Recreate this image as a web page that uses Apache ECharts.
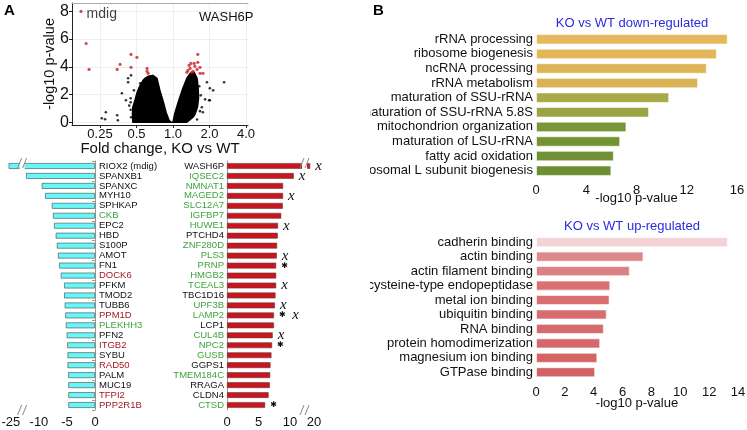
<!DOCTYPE html>
<html>
<head>
<meta charset="utf-8">
<script src="https://cdn.jsdelivr.net/npm/echarts@6/dist/echarts.min.js"></script>
<style>
body { margin: 0; background: #fff; }
#wrap { position: relative; width: 747px; height: 430px; overflow: hidden; }
.panel { position: absolute; }
</style>
</head>
<body>
<div id="wrap">
    <div id="volcano" class="panel" style="left:0;top:0;width:262px;height:156px"></div>
    <div id="genes" class="panel" style="left:0;top:150px;width:370px;height:280px"></div>
    <div id="goTerms" class="panel" style="left:370px;top:0;width:377px;height:430px"></div>
</div>
<script>
const font = 'Liberation Sans'

// ---- volcano: [log2 fold change, -log10 p] ----
// outline of the dense black cloud
const cloudOutline = [[-1.10,0],[-1.11,0.6],[-1.10,1.08],[-1.04,1.6],[-0.99,2.09],[-0.92,2.55],[-0.82,3.02],[-0.75,3.2],[-0.68,3.31],[-0.55,3.38],[-0.44,3.17],[-0.40,2.75],[-0.36,2.30],[-0.27,1.51],[-0.19,0.72],[-0.11,0.14],[-0.05,0],[0,0],[0.05,0.65],[0.16,1.58],[0.27,2.45],[0.38,3.17],[0.47,3.53],[0.58,3.6],[0.66,3.17],[0.69,2.45],[0.70,1.73],[0.67,1.08],[0.60,0.55],[0.55,0.36],[0.38,0]]
const blackPoints = [[-1.15,3.38],[-1.23,3.17],[-1.40,2.09],[-1.84,0.72],[-1.86,0.22],[-1.53,0.50],[-1.51,0.14],[-1.16,1.73],[-1.16,1.44],[-1.07,2.3],[-1.16,0.9],[-1.23,2.88],[-1.95,0.29],[-1.15,0.36],[-1.20,1.2],[-1.29,1.58],[-0.9,2.8],[0.93,2.88],[1.40,2.88],[1.01,2.45],[1.10,2.30],[0.88,1.65],[0.99,1.58],[0.76,1.94],[0.79,1.08],[0.74,0.8],[0.72,2.6],[0.66,0.2],[0.82,0.72],[1.01,1.58]]
const redPoints = [[-2.52,7.99],[-2.38,5.68],[-2.30,3.81],[-1.53,3.81],[-1.45,4.17],[-1.15,4.89],[-1.15,3.96],[-0.99,4.68],[-0.71,3.88],[-0.71,3.67],[-0.68,3.53],[0.68,4.89],[0.44,4.10],[0.58,4.24],[0.68,4.32],[0.74,3.96],[0.60,4.03],[0.41,3.74],[0.38,3.60],[0.55,3.67],[0.74,3.53],[0.82,3.53],[0.66,3.81],[0.47,3.88],[0.52,3.60],[0.49,4.24]]
const fcTicks = [-2, -1, 0, 1, 2]
const fcLabels = ['0.25', '0.5', '1.0', '2.0', '4.0']
const pTicks = [0, 2, 4, 6, 8]

// ---- top genes, fold change KO vs WT ----
const downGenes = ['RIOX2 (mdig)','SPANXB1','SPANXC','MYH10','SPHKAP','CKB','EPC2','HBD','S100P','AMOT','FN1','DOCK6','PFKM','TMOD2','TUBB6','PPM1D','PLEKHH3','PFN2','ITGB2','SYBU','RAD50','PALM','MUC19','TFPI2','PPP2R1B']
const downFold = [-27,-12.3,-9.5,-8.9,-7.7,-7.5,-7.3,-7.0,-6.8,-6.6,-6.4,-6.1,-5.5,-5.5,-5.4,-5.3,-5.2,-5.05,-4.95,-4.9,-4.9,-4.8,-4.75,-4.75,-4.75]
const downTone = ['k','k','k','k','k','g','k','k','k','k','k','r','k','k','k','r','g','k','r','k','r','k','k','r','r']
const upGenes = ['WASH6P','IQSEC2','NMNAT1','MAGED2','SLC12A7','IGFBP7','HUWE1','PTCHD4','ZNF280D','PLS3','PRNP','HMGB2','TCEAL3','TBC1D16','UPF3B','LAMP2','LCP1','CUL4B','NPC2','GUSB','GGPS1','TMEM184C','RRAGA','CLDN4','CTSD']
const upFold = [17.3,10.6,8.9,8.9,8.85,8.6,8.1,8.05,7.95,7.9,7.8,7.8,7.8,7.7,7.6,7.45,7.45,7.25,7.15,7.05,6.9,6.85,6.8,6.6,6.05]
const upTone = ['k','g','g','g','g','g','g','k','g','g','g','g','g','k','g','g','k','g','g','g','k','g','k','k','g']
const upNotes = ['x','x','','x','','','x','','','x','*','','x','','x','*x','','x','*','','','','','','*']
const downTicks = [-25, -10, -5, 0]
const upTicks = [0, 5, 10, 20]

// ---- GO enrichment ----
const downTerms = ['rRNA processing','ribosome biogenesis','ncRNA processing','rRNA metabolism','maturation of SSU-rRNA','maturation of SSU-rRNA 5.8S','mitochondrion organization','maturation of LSU-rRNA','fatty acid oxidation','ribosomal L subunit biogenesis']
const downLogP = [15.26, 14.4, 13.6, 12.9, 10.6, 9.0, 7.2, 6.7, 6.2, 6.0]
const upTerms = ['cadherin binding','actin binding','actin filament binding','cysteine-type endopeptidase','metal ion binding','ubiquitin binding','RNA binding','protein homodimerization','magnesium ion binding','GTPase binding']
const upLogP = [13.3, 7.45, 6.5, 5.15, 5.1, 4.9, 4.7, 4.45, 4.25, 4.1]

const toneColor = { k: '#111', g: '#3ea43e', r: '#a3191d' }
const downPalette = ['#e5b95b','#e3b759','#deb556','#d8b255','#aaa947','#9aa443','#789737','#739435','#6f9133','#6b8f31']
const upPalette = ['#f3d2d5','#df8789','#dd8081','#d97174','#d96f72','#d86d70','#d76a6d','#d5686a','#d46567','#d26365']

// axis breaks: values beyond the break are squeezed
function downPos (v) { return v >= -12.5 ? v : -12.5 + (v + 12.5) * 0.2 }
function upPos (v) { return v <= 12 ? v : 12 + (v - 12) * 0.225 }
function tickLabel (ticks, pos) {
    return function (v) {
        let t = ticks.find(t => Math.abs(pos(t) - v) < 1e-6)
        return t === undefined ? '' : String(t)
    }
}

// ---------------- volcano ----------------
const volcano = echarts.init(document.getElementById('volcano'))
let volcanoOption = {
    animation: false,
    textStyle: { fontFamily: font },
    title: [
        { text: 'A', left: 4, top: 3, padding: 0, textStyle: { fontSize: 15, fontWeight: 'bold', color: '#000' } },
        { text: 'WASH6P', left: 199, top: 11, padding: 0, textStyle: { fontSize: 13, fontWeight: 'normal', color: '#111' } }
    ],
    grid: { left: 72, top: 3, width: 176, height: 122, outerBoundsMode: 'none' },
    xAxis: [
        {
            type: 'value', min: -2.767, max: 2.055,
            name: 'Fold change, KO vs WT', nameLocation: 'middle', nameGap: 16, nameMoveOverlap: false,
            nameTextStyle: { fontSize: 15, color: '#111' },
            axisLine: { onZero: false, lineStyle: { color: '#222' } },
            axisTick: { customValues: fcTicks, length: 3, lineStyle: { color: '#222' } },
            axisLabel: { customValues: fcTicks, margin: 3, fontSize: 13, color: '#111',
                formatter: v => fcLabels[fcTicks.indexOf(v)] },
            splitLine: { show: true, lineStyle: { color: '#efefef' } }
        },
        {
            type: 'value', position: 'top', min: -2.767, max: 2.055,
            axisLine: { onZero: false, lineStyle: { color: '#aaa' } },
            axisTick: { show: false }, axisLabel: { show: false }, splitLine: { show: false }
        }
    ],
    yAxis: {
        type: 'value', min: -0.2, max: 8.6,
        name: '-log10 p-value', nameLocation: 'middle', nameGap: 15, nameMoveOverlap: false,
        nameTextStyle: { fontSize: 14.5, color: '#111' },
        axisLine: { show: true, onZero: false, lineStyle: { color: '#222' } },
        axisTick: { show: true, customValues: pTicks, length: 3, lineStyle: { color: '#222' } },
        axisLabel: { customValues: pTicks, margin: 3, fontSize: 16, color: '#111' },
        splitLine: { show: true, lineStyle: { color: '#efefef' } }
    },
    series: [
        {
            type: 'custom',
            silent: true,
            data: [[0, 0]],
            renderItem: function (params, api) {
                return {
                    type: 'polygon',
                    shape: { points: cloudOutline.map(p => api.coord(p)) },
                    style: { fill: '#000', stroke: '#000', lineWidth: 1.5, lineJoin: 'round' }
                }
            }
        },
        {
            type: 'scatter', symbolSize: 2.6, itemStyle: { color: '#000' },
            data: blackPoints
        },
        {
            type: 'scatter', symbolSize: 3.2, itemStyle: { color: '#cc1f24' },
            data: redPoints.map((p, i) => i === 0 ? {
                value: p,
                label: { show: true, position: 'right', distance: 4, offset: [0, 3], formatter: 'mdig', fontSize: 14, color: '#111' }
            } : p)
        }
    ]
}
volcano.setOption(volcanoOption)

// ---------------- gene bars ----------------
function renderBreak (params, api) {
    const cs = params.coordSys
    const x = api.coord([api.value(0), 0])[0]
    const top = cs.y
    const bottom = cs.y + cs.height
    const band = cs.height / 25
    let kids = [
        { type: 'rect', shape: { x: x - 2.5, y: top - 1.5, width: 5, height: band }, style: { fill: '#fff' } },
        { type: 'rect', shape: { x: x - 2.5, y: bottom - 2, width: 5, height: 4 }, style: { fill: '#fff' } }
    ]
    ;[top + 2, bottom].forEach(cy => {
        [-2.5, 2.5].forEach(dx => {
            kids.push({
                type: 'line',
                shape: { x1: x + dx - 2, y1: cy + 5, x2: x + dx + 2, y2: cy - 5 },
                style: { stroke: '#888', lineWidth: 1 }
            })
        })
    })
    return { type: 'group', children: kids }
}

const frameColor = '#999'
const genes = echarts.init(document.getElementById('genes'))
let geneOption = {
    animation: false,
    textStyle: { fontFamily: font },
    grid: [
        { left: 7, top: 11, width: 88, height: 249, outerBoundsMode: 'none' },
        { left: 227, top: 11, width: 87, height: 249, outerBoundsMode: 'none' }
    ],
    xAxis: [
        {
            gridIndex: 0, type: 'value', min: downPos(-28.5), max: 0,
            axisLine: { onZero: false, lineStyle: { color: frameColor } },
            axisTick: { customValues: downTicks.map(downPos), length: 3, lineStyle: { color: frameColor } },
            axisLabel: { customValues: downTicks.map(downPos), margin: 6, fontSize: 13, color: '#111',
                formatter: tickLabel(downTicks, downPos) },
            splitLine: { show: false }
        },
        {
            gridIndex: 0, type: 'value', position: 'top', min: downPos(-28.5), max: 0,
            axisLine: { onZero: false, lineStyle: { color: frameColor } },
            axisTick: { show: false }, axisLabel: { show: false }, splitLine: { show: false }
        },
        {
            gridIndex: 1, type: 'value', min: 0, max: upPos(20),
            axisLine: { onZero: false, lineStyle: { color: frameColor } },
            axisTick: { customValues: upTicks.map(upPos), length: 3, lineStyle: { color: frameColor } },
            axisLabel: { customValues: upTicks.map(upPos), margin: 6, fontSize: 13, color: '#111',
                formatter: tickLabel(upTicks, upPos) },
            splitLine: { show: false }
        },
        {
            gridIndex: 1, type: 'value', position: 'top', min: 0, max: upPos(20),
            axisLine: { onZero: false, lineStyle: { color: frameColor } },
            axisTick: { show: false }, axisLabel: { show: false }, splitLine: { show: false }
        }
    ],
    yAxis: [
        {
            gridIndex: 0, type: 'category', data: downGenes, inverse: true, position: 'right',
            axisLine: { show: false }, axisTick: { show: false },
            axisLabel: { interval: 0, margin: 4, fontSize: 9.5, color: (v, i) => toneColor[downTone[i]] }
        },
        {
            gridIndex: 0, type: 'category', data: downGenes, inverse: true, position: 'left',
            axisLine: { show: true, lineStyle: { color: frameColor } },
            axisTick: { show: true, length: 3, lineStyle: { color: frameColor } },
            axisLabel: { show: false }
        },
        {
            gridIndex: 1, type: 'category', data: upGenes, inverse: true, position: 'left',
            axisLine: { show: false }, axisTick: { show: false },
            axisLabel: { interval: 0, margin: 3, fontSize: 9.5, color: (v, i) => toneColor[upTone[i]] }
        },
        {
            gridIndex: 1, type: 'category', data: upGenes, inverse: true, position: 'right',
            axisLine: { show: true, lineStyle: { color: frameColor } },
            axisTick: { show: false }, axisLabel: { show: false }
        }
    ],
    series: [
        {
            type: 'bar', xAxisIndex: 0, yAxisIndex: 0,
            data: downFold.map(downPos),
            barCategoryGap: '42%',
            itemStyle: { color: '#6af6f6', borderColor: '#3c4a4a', borderWidth: 0.6 }
        },
        {
            type: 'bar', xAxisIndex: 2, yAxisIndex: 2,
            data: upFold.map(upPos),
            barCategoryGap: '42%',
            itemStyle: { color: '#c8161e', borderColor: '#6a3a3a', borderWidth: 0.6 },
            label: {
                show: true, position: 'right', distance: 5,
                formatter: p => {
                    let n = upNotes[p.dataIndex]
                    let parts = []
                    if (n.indexOf('*') >= 0) parts.push('{s|\u2731}')
                    if (n.indexOf('x') >= 0) parts.push('{x|x}')
                    return parts.join('  ')
                },
                rich: {
                    s: { fontFamily: 'DejaVu Sans', fontSize: 8, color: '#111' },
                    x: { fontFamily: 'Liberation Serif', fontStyle: 'italic', fontSize: 15, color: '#111' }
                }
            }
        },
        {
            type: 'custom', xAxisIndex: 0, yAxisIndex: 0, z: 5, clip: false, silent: true,
            data: [[-13.0, 0]], renderItem: renderBreak
        },
        {
            type: 'custom', xAxisIndex: 2, yAxisIndex: 2, z: 5, clip: false, silent: true,
            data: [[12.3, 0]], renderItem: renderBreak
        }
    ]
}
genes.setOption(geneOption)

// ---------------- GO terms ----------------
const go = echarts.init(document.getElementById('goTerms'))
function goXAxis (grid, max, step, gap) {
    return {
        gridIndex: grid, type: 'value', min: 0, max: max, interval: step,
        name: '-log10 p-value', nameLocation: 'middle', nameGap: gap, nameMoveOverlap: false,
        nameTextStyle: { fontSize: 13, color: '#111' },
        axisLine: { lineStyle: { color: '#222' } },
        axisTick: { length: 4, lineStyle: { color: '#222' } },
        axisLabel: { fontSize: 13, color: '#111', margin: 6 },
        splitLine: { show: false }
    }
}
function goYAxis (grid, terms) {
    return {
        gridIndex: grid, type: 'category', data: terms, inverse: true,
        axisLine: { show: false }, axisTick: { show: false },
        axisLabel: { interval: 0, margin: 3, fontSize: 13, color: '#111' }
    }
}
let goOption = {
    animation: false,
    textStyle: { fontFamily: font },
    title: [
        { text: 'B', left: 3, top: 3, padding: 0, textStyle: { fontSize: 15, fontWeight: 'bold', color: '#000' } },
        { text: 'KO vs WT down-regulated', left: 262, top: 17, padding: 0, textAlign: 'center',
            textStyle: { fontSize: 13, fontWeight: 'normal', color: '#2a2ae0' } },
        { text: 'KO vs WT up-regulated', left: 262, top: 220, padding: 0, textAlign: 'center',
            textStyle: { fontSize: 13, fontWeight: 'normal', color: '#2a2ae0' } }
    ],
    grid: [
        { left: 166, top: 32, width: 201, height: 146, outerBoundsMode: 'none' },
        { left: 166, top: 235, width: 202, height: 144.5, outerBoundsMode: 'none' }
    ],
    xAxis: [goXAxis(0, 16, 4, 14), goXAxis(1, 14, 2, 17)],
    yAxis: [goYAxis(0, downTerms), goYAxis(1, upTerms)],
    series: [
        {
            type: 'bar', xAxisIndex: 0, yAxisIndex: 0, barCategoryGap: '28%',
            data: downLogP.map((v, i) => ({ value: v, itemStyle: { color: downPalette[i] } })),
            itemStyle: { borderColor: 'rgba(255,255,255,0.6)', borderWidth: 1 }
        },
        {
            type: 'bar', xAxisIndex: 1, yAxisIndex: 1, barCategoryGap: '30%',
            data: upLogP.map((v, i) => ({ value: v, itemStyle: { color: upPalette[i] } })),
            itemStyle: { borderColor: 'rgba(255,255,255,0.6)', borderWidth: 1 }
        }
    ]
}
go.setOption(goOption)
</script>
</body>
</html>
